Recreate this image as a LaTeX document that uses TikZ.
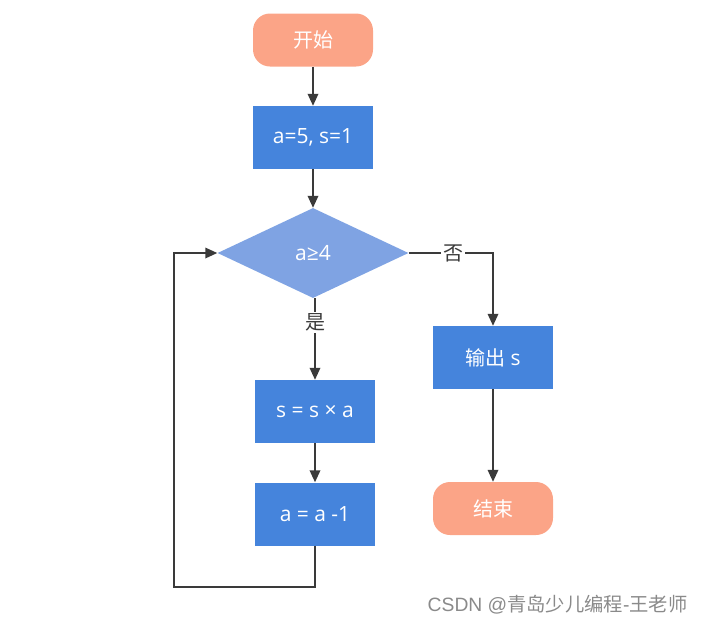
\documentclass[tikz,border=0pt]{standalone}
\usepackage{fontspec}
\setmainfont{Open Sans}
\newfontfamily\cjk{Noto Sans CJK SC}
\newfontfamily\wmfont{Liberation Sans}
\usetikzlibrary{shapes.geometric,arrows.meta}
\definecolor{term}{HTML}{FBA487}
\definecolor{proc}{HTML}{4584DC}
\definecolor{deci}{HTML}{7FA3E3}
\definecolor{edge}{HTML}{3A3A3A}
\definecolor{wmgray}{HTML}{8A8A8A}
\tikzset{
  x=1pt,y=-1pt,
  every node/.style={font=\fontsize{21}{24}\selectfont},
  cjkfont/.style={font=\cjk\fontsize{20}{24}\selectfont},
  termbox/.style={rounded corners=17pt,fill=term,text=white,minimum width=120pt,minimum height=53pt,inner sep=0pt,cjkfont},
  procbox/.style={fill=proc,text=white,minimum width=120pt,minimum height=63pt,inner sep=0pt},
  decbox/.style={diamond,fill=deci,text=white,aspect=2.12,minimum width=191pt,minimum height=90pt,inner sep=0pt},
  conn/.style={draw=edge,line width=1.8pt,-{Triangle[length=12pt,width=10.5pt]}},
  lbl/.style={fill=white,text=edge,inner sep=2pt,cjkfont}
}
\begin{document}
\begin{tikzpicture}
\useasboundingbox (0,0) rectangle (703,625);
\node[termbox] (start) at (313,40) {开始};
\node[procbox] (init) at (313,137.5) {a=5, s=1};
\node[decbox] (cond) at (313,253) {a≥4};
\node[procbox] (mul) at (315,411.5) {s = s × a};
\node[procbox] (dec) at (315,514) {a = a -1};
\node[procbox] (out) at (493,357.5) {{\cjk\fontsize{20}{24}\selectfont 输出} s};
\node[termbox] (end) at (493,508.5) {结束};
\coordinate (c1) at (315,587);
\coordinate (c2) at (174,587);
\coordinate (c3) at (174,253);
\coordinate (c4) at (493,253);
\coordinate (c5) at (315,298);
\draw[conn] (start) -- (init);
\draw[conn] (init) -- (cond);
\draw[conn] (c5) -- (mul.north) node[lbl,pos=0.3] (yes) {是};
\draw[conn] (mul) -- (dec);
\draw[conn] (dec.south) -- (c1) -- (c2) -- (c3) -- (cond.west);
\draw[conn] (cond.east) -- (c4) node[lbl,pos=0.53] (no) {否} -- (out.north);
\draw[conn] (out) -- (end);
\node[anchor=east,text=wmgray,font=\fontsize{19.3}{22}\selectfont] (wm) at (691,605) {\wmfont CSDN @{\cjk 青岛少儿编程}-{\cjk 王老师}};
\end{tikzpicture}
\end{document}
